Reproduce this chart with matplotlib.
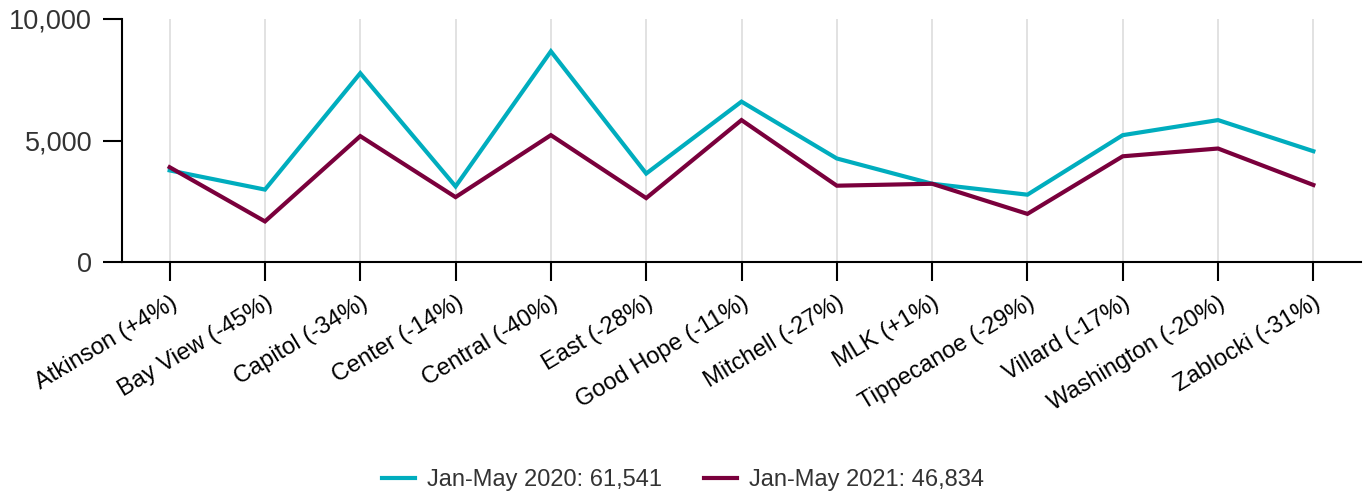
import matplotlib
matplotlib.use("Agg")
import matplotlib.pyplot as plt
from matplotlib.ticker import FuncFormatter
from matplotlib.transforms import ScaledTranslation

categories = ["Atkinson (+4%)", "Bay View (-45%)", "Capitol (-34%)", "Center (-14%)",
              "Central (-40%)", "East (-28%)", "Good Hope (-11%)", "Mitchell (-27%)",
              "MLK (+1%)", "Tippecanoe (-29%)", "Villard (-17%)", "Washington (-20%)",
              "Zablocki (-31%)"]
jan_may_2020 = [3770, 2980, 7770, 3110, 8670, 3640, 6600, 4260, 3220, 2770, 5220, 5840, 4560]
jan_may_2021 = [3900, 1670, 5180, 2670, 5220, 2630, 5840, 3140, 3220, 1980, 4350, 4670, 3170]
label_2020 = "Jan-May 2020: 61,541"
label_2021 = "Jan-May 2021: 46,834"
yticks = [0, 5000, 10000]

plt.rcParams['font.family'] = ['Liberation Sans', 'DejaVu Sans']
text_color = '#333333'
teal = '#00ADBE'
maroon = '#7A003C'

fig = plt.figure(figsize=(13.67, 4.96), dpi=100)
ax = fig.add_axes([122/1367, 1-262/496, (1361-122)/1367, (262-19)/496])

x = list(range(len(categories)))
ax.plot(x, jan_may_2020, color=teal, lw=3, label=label_2020, solid_joinstyle='miter', zorder=3)
ax.plot(x, jan_may_2021, color=maroon, lw=3, label=label_2021, solid_joinstyle='miter', zorder=3)

ax.set_xlim(-0.5, len(categories) - 0.5)
ax.set_ylim(0, 10000)
ax.set_yticks(yticks)
ax.yaxis.set_major_formatter(FuncFormatter(lambda v, p: f"{int(v):,}"))
ax.set_xticks(x)
ax.set_xticklabels(categories, rotation=31, ha='right', rotation_mode='anchor',
                   fontsize=17, color=text_color)
offset = ScaledTranslation(-4/100, 0, fig.dpi_scale_trans)
for lab in ax.get_xticklabels():
    lab.set_transform(lab.get_transform() + offset)
ax.tick_params(axis='y', labelsize=19.5, colors='black', labelcolor=text_color,
               length=13.5, width=1.5, pad=8)
ax.tick_params(axis='x', length=13.5, width=1.5, colors='black', pad=8)

for s in ['top', 'right']:
    ax.spines[s].set_visible(False)
for s in ['left', 'bottom']:
    ax.spines[s].set_linewidth(1.5)
    ax.spines[s].set_color('black')

ax.grid(axis='x', color='#DDDDDD', lw=1.2, zorder=0)
ax.set_axisbelow(True)

leg = fig.legend(loc='center', bbox_to_anchor=(683/1367, 1-480/496), ncol=2,
                 frameon=False, fontsize=17, handlelength=1.4, columnspacing=1.8,
                 handletextpad=0.5)
for t in leg.get_texts():
    t.set_color(text_color)

fig.savefig("out.png", dpi=100)
